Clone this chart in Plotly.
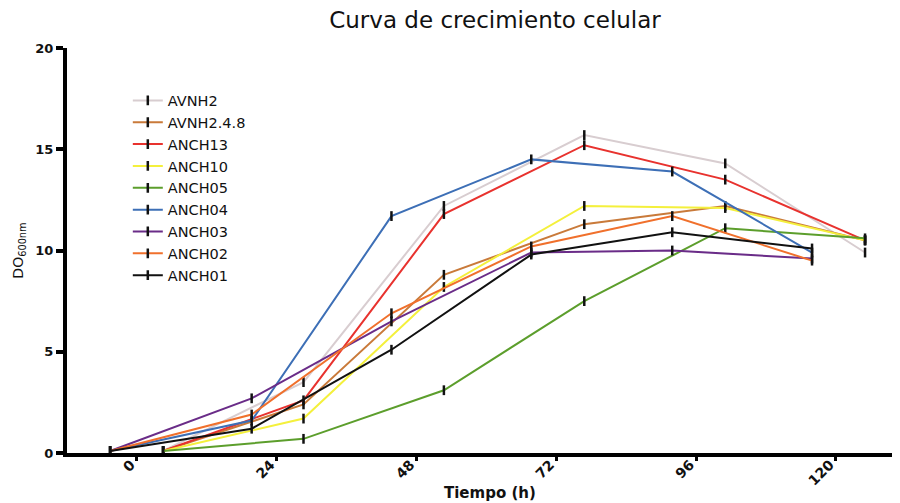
import plotly.graph_objects as go

# time positions (h) as plotted
times_a = [-4.6, 19.7, 43.7, 67.7, 91.9, 115.9]
times_b = [4.5, 28.6, 52.7, 76.8, 101.0, 125.0]

series_names = ["AVNH2", "AVNH2.4.8", "ANCH13", "ANCH10", "ANCH05",
                "ANCH04", "ANCH03", "ANCH02", "ANCH01"]
series_group = ["b", "b", "b", "b", "b", "a", "a", "a", "a"]

avnh2 = [0.1, 3.5, 12.2, 15.7, 14.3, 9.9]
avnh248 = [0.1, 2.4, 8.8, 11.3, 12.2, 10.5]
anch13 = [0.1, 2.6, 11.8, 15.2, 13.5, 10.5]
anch10 = [0.1, 1.7, 8.2, 12.2, 12.1, 10.5]
anch05 = [0.1, 0.7, 3.1, 7.5, 11.1, 10.6]
anch04 = [0.1, 1.6, 11.7, 14.5, 13.9, 9.9]
anch03 = [0.1, 2.7, 6.5, 9.9, 10.0, 9.6]
anch02 = [0.1, 1.9, 6.9, 10.2, 11.7, 9.5]
anch01 = [0.1, 1.2, 5.1, 9.8, 10.9, 10.1]

series_values = [avnh2, avnh248, anch13, anch10, anch05,
                 anch04, anch03, anch02, anch01]
series_colors = ["#d8cdd0", "#c97a3a", "#e8322e", "#f4f03c", "#5c9e2c",
                 "#3d6fb6", "#6a2c88", "#f0702c", "#111111"]

x_ticks = [0, 24, 48, 72, 96, 120]
y_ticks = [0, 5, 10, 15, 20]

FONT = "DejaVu Sans, Liberation Sans, Arial, sans-serif"

fig = go.Figure()
for name, grp, vals, col in zip(series_names, series_group, series_values, series_colors):
    xs = times_a if grp == "a" else times_b
    fig.add_trace(go.Scatter(
        x=xs, y=vals, name=name, mode="lines+markers",
        line=dict(color=col, width=2),
        marker=dict(symbol="line-ns-open", size=7, color="#111111",
                    line=dict(color="#111111", width=2.5)),
    ))

# page body has an 8px margin, so the figure is sized 8px smaller
fig.update_layout(
    width=892, height=495,
    margin=dict(l=59, r=0, t=40, b=50),
    paper_bgcolor="white", plot_bgcolor="white",
    font=dict(family=FONT, color="#111111"),
    title=dict(text="Curva de crecimiento celular", x=0.546, xanchor="center",
               xref="container", yref="container", y=0.976, yanchor="middle",
               font=dict(size=23, family=FONT, color="#111111")),
    showlegend=True,
    legend=dict(x=0.073, y=0.91, xanchor="left", yanchor="top",
                font=dict(size=14.5, family=FONT), tracegroupgap=0,
                bgcolor="rgba(0,0,0,0)", itemwidth=30),
    xaxis=dict(range=[-12, 131], tickvals=x_ticks, ticktext=[str(t) for t in x_ticks],
               tickangle=-45, showgrid=False, zeroline=False,
               showline=True, linecolor="#000000", linewidth=4,
               ticks="outside", ticklen=4, tickwidth=3, tickcolor="#000000",
               ticklabelshift=-6, ticklabelstandoff=-10,
               tickfont=dict(size=14, family=FONT, weight="bold")),
    yaxis=dict(range=[0, 20], tickvals=y_ticks, showgrid=False, zeroline=False,
               showline=True, linecolor="#000000", linewidth=4,
               ticks="outside", ticklen=7, tickwidth=4, tickcolor="#000000",
               tickfont=dict(size=13, family=FONT, weight="bold"),
               title=dict(text="DO<sub>600nm</sub>", standoff=9,
                          font=dict(size=14, family=FONT))),
    annotations=[dict(text="<b>Tiempo (h)</b>", xref="paper", yref="paper",
                      x=0.508, y=-0.099, xanchor="center", yanchor="middle",
                      showarrow=False, font=dict(size=15, family=FONT, color="#111111"))],
)

fig.write_html("out.html")
